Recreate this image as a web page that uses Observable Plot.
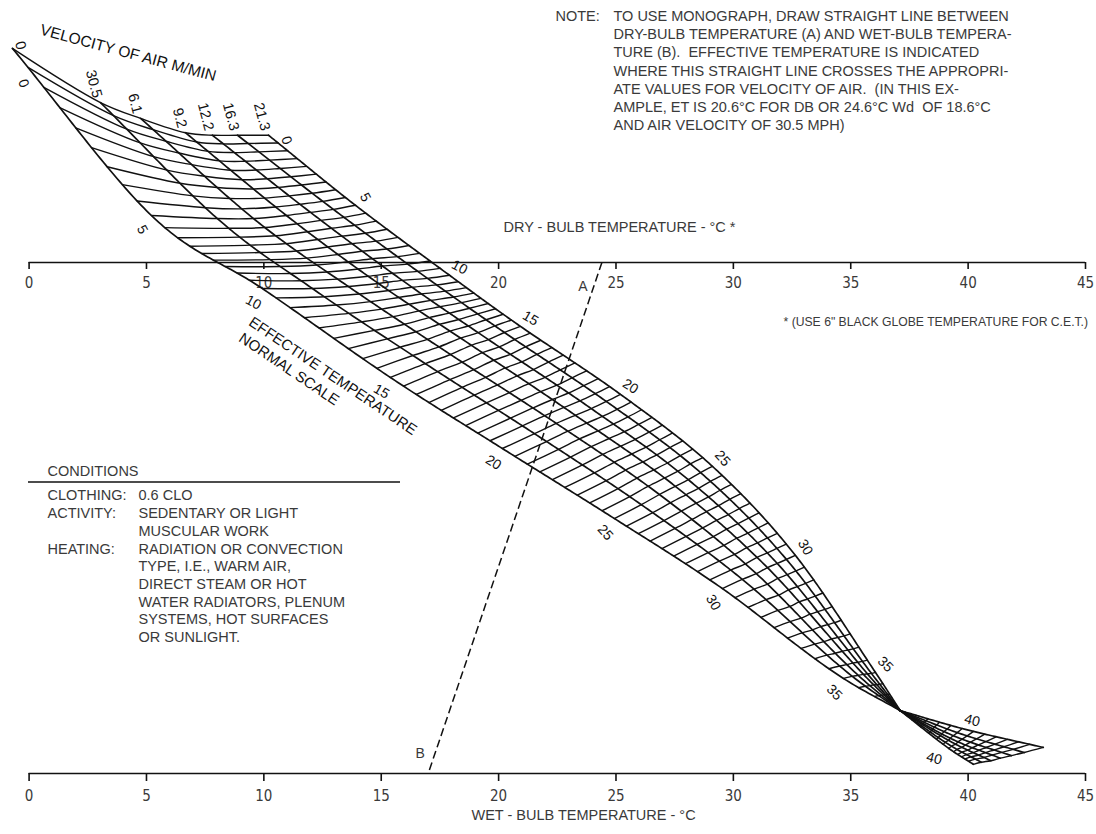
<!DOCTYPE html>
<html>
<head>
<meta charset="utf-8">
<script src="https://cdn.jsdelivr.net/npm/d3@7"></script>
<script src="https://cdn.jsdelivr.net/npm/@observablehq/plot@0.6"></script>
<style>
  html, body { margin: 0; padding: 0; background: #fff; }
  #chart svg { display: block; }
</style>
</head>
<body>
<div id="chart"></div>
<script>
// ---------------- Scales ----------------
const dryBulbTicks = [0, 5, 10, 15, 20, 25, 30, 35, 40, 45];
const wetBulbTicks = [0, 5, 10, 15, 20, 25, 30, 35, 40, 45];

// ---------------- Nomograph mesh ----------------
// Velocity lines, read at effective-temperature nodes (°C).
// T: position on the temperature scales (°C); H: height between wet-bulb scale (0) and dry-bulb scale (1)
const etNodes = [0, 5, 10, 15, 20, 25, 30, 35, 37, 40, 44];
const velocityLabels = ["0", "30.5", "6.1", "9.2", "12.2", "16.3", "21.3"];
const vel0T = [-0.71, 5.21, 9.94, 15.39, 20.16, 24.93, 29.53, 34.69, 37.11, 39.75, 43.20];
const vel0H = [1.419, 1.092, 0.949, 0.775, 0.636, 0.499, 0.362, 0.186, 0.123, 0.088, 0.051];
const vel1T = [3.04, 8.02, 12.07, 16.88, 21.53, 26.08, 30.38, 35.07, 37.11, 39.54, 42.39];
const vel1H = [1.313, 1.086, 0.949, 0.802, 0.665, 0.526, 0.380, 0.190, 0.123, 0.080, 0.041];
const vel2T = [4.75, 9.56, 13.60, 17.95, 22.46, 26.85, 30.98, 35.32, 37.11, 39.37, 41.84];
const vel2H = [1.282, 1.086, 0.953, 0.820, 0.685, 0.546, 0.391, 0.192, 0.123, 0.074, 0.035];
const vel3T = [6.66, 10.96, 14.88, 18.84, 23.27, 27.53, 31.45, 35.54, 37.11, 39.24, 41.37];
const vel3H = [1.254, 1.092, 0.959, 0.838, 0.701, 0.562, 0.403, 0.194, 0.123, 0.069, 0.030];
const vel4T = [7.81, 11.99, 15.90, 19.57, 23.95, 28.08, 31.87, 35.71, 37.11, 39.16, 40.97];
const vel4H = [1.249, 1.098, 0.965, 0.849, 0.714, 0.575, 0.411, 0.195, 0.123, 0.065, 0.025];
const vel5T = [8.88, 12.96, 16.97, 20.25, 24.59, 28.60, 32.26, 35.88, 37.11, 39.03, 40.56];
const vel5H = [1.249, 1.104, 0.969, 0.863, 0.728, 0.589, 0.419, 0.196, 0.123, 0.061, 0.022];
const vel6T = [10.20, 13.90, 17.91, 20.93, 25.19, 29.11, 32.64, 36.05, 37.11, 38.94, 40.22];
const vel6H = [1.249, 1.112, 0.975, 0.875, 0.742, 0.601, 0.427, 0.198, 0.123, 0.057, 0.018];

// Effective-temperature grid lines every 1 °F (32 °F … 110 °F) plus the closing edge
const etRungsF = d3.range(32, 111);
const etEnd = 44;
const etLabelValues = [0, 5, 10, 15, 20, 25, 30, 35, 40];
const etLabelTilt = {0: 70, 5: 62, 10: 28, 15: 30, 20: 32, 25: 48, 30: 60, 35: 45, 40: 15};

// Worked example (dashed line A–B)
const exampleDryBulb = 24.4;
const exampleWetBulb = 17.0;

// ---------------- Geometry helpers ----------------
const lines = [
  {label: velocityLabels[0], T: vel0T, H: vel0H},
  {label: velocityLabels[1], T: vel1T, H: vel1H},
  {label: velocityLabels[2], T: vel2T, H: vel2H},
  {label: velocityLabels[3], T: vel3T, H: vel3H},
  {label: velocityLabels[4], T: vel4T, H: vel4H},
  {label: velocityLabels[5], T: vel5T, H: vel5H},
  {label: velocityLabels[6], T: vel6T, H: vel6H}
];
const CONV = 8; // node where all velocity lines cross

function hermite(E, P, e) {
  const n = E.length;
  let i = 0;
  while (i < n - 2 && e > E[i + 1]) i++;
  const slope = j => j === 0 ? (P[1] - P[0]) / (E[1] - E[0])
    : j === n - 1 ? (P[j] - P[j - 1]) / (E[j] - E[j - 1])
    : ((P[j + 1] - P[j]) / (E[j + 1] - E[j]) + (P[j] - P[j - 1]) / (E[j] - E[j - 1])) / 2;
  const h = E[i + 1] - E[i], t = (e - E[i]) / h, t2 = t * t, t3 = t2 * t;
  return (2 * t3 - 3 * t2 + 1) * P[i] + (t3 - 2 * t2 + t) * h * slope(i)
       + (-2 * t3 + 3 * t2) * P[i + 1] + (t3 - t2) * h * slope(i + 1);
}
function pos(k, e) {
  const L = lines[k];
  const [a, b] = e <= etNodes[CONV] ? [0, CONV + 1] : [CONV, etNodes.length];
  const E = etNodes.slice(a, b);
  return {x: hermite(E, L.T.slice(a, b), e), y: hermite(E, L.H.slice(a, b), e)};
}

const velPts = [];
lines.forEach((L, k) => {
  for (let e = 0; e <= etNodes[CONV] + 1e-9; e += 0.1) velPts.push({z: k + "a", ...pos(k, Math.min(e, etNodes[CONV]))});
  for (let e = etNodes[CONV]; e <= etEnd + 1e-9; e += 0.1) velPts.push({z: k + "b", ...pos(k, Math.min(e, etEnd))});
});
const rungET = etRungsF.map(f => (f - 32) * 5 / 9).concat([etEnd]);
const rungPts = rungET.flatMap((e, r) => lines.map((L, k) => ({r, ...pos(k, e)})));

const lowerLabels = etLabelValues.map(e => ({e, ...pos(e < etNodes[CONV] ? 0 : 6, e)}));
const upperLabels = etLabelValues.map(e => ({e, ...pos(e < etNodes[CONV] ? 6 : 0, e)}));
const velLabelPts = lines.map((L, k) => ({label: L.label, k, ...pos(k, 0)}));

// ---------------- Drawing ----------------
const ink = "#111";
const textInk = "#3a3a3a";
const sans = "Liberation Sans, Arial, Helvetica, sans-serif";
const narrow = "Liberation Sans Narrow, Arial Narrow, DejaVu Sans Condensed, sans-serif";

const noteText = [
  "TO USE MONOGRAPH, DRAW STRAIGHT LINE BETWEEN",
  "DRY-BULB TEMPERATURE (A) AND WET-BULB TEMPERA-",
  "TURE (B).  EFFECTIVE TEMPERATURE IS INDICATED",
  "WHERE THIS STRAIGHT LINE CROSSES THE APPROPRI-",
  "ATE VALUES FOR VELOCITY OF AIR.  (IN THIS EX-",
  "AMPLE, ET IS 20.6°C FOR DB OR 24.6°C Wd  OF 18.6°C",
  "AND AIR VELOCITY OF 30.5 MPH)"
].join("\n");
const condLabels = "CLOTHING:\nACTIVITY:\n\nHEATING:";
const condValues = [
  "0.6 CLO", "SEDENTARY OR LIGHT", "MUSCULAR WORK", "RADIATION OR CONVECTION",
  "TYPE, I.E., WARM AIR,", "DIRECT STEAM OR HOT", "WATER RADIATORS, PLENUM",
  "SYSTEMS, HOT SURFACES", "OR SUNLIGHT."
].join("\n");

const note = (txt, o) => Plot.text([txt], {text: d => d, frameAnchor: "top-left", textAnchor: "start",
  fill: textInk, fontFamily: sans, fontSize: 14.5, ...o});

const conditionsRule = () => {
  const l = document.createElementNS("http://www.w3.org/2000/svg", "line");
  l.setAttribute("x1", 28); l.setAttribute("x2", 400);
  l.setAttribute("y1", 482); l.setAttribute("y2", 482);
  l.setAttribute("stroke", ink); l.setAttribute("stroke-width", 1.6);
  return l;
};

const chart = Plot.plot({
  width: 1096,
  height: 834,
  margin: 0,
  style: {background: "#fff", fontFamily: sans},
  x: {axis: null, domain: [0, 45], range: [28.6, 1085]},
  y: {axis: null, domain: [0, 1], range: [773, 262]},
  marks: [
    // dry-bulb scale
    Plot.ruleY([1], {y: d => d, x1: () => d3.min(dryBulbTicks), x2: () => d3.max(dryBulbTicks), stroke: ink, strokeWidth: 1.7}),
    Plot.ruleX(dryBulbTicks, {x: d => d, y1: () => 1, y2: () => 1, insetBottom: -7, stroke: ink, strokeWidth: 1.6}),
    Plot.text(dryBulbTicks, {x: d => d, y: () => 1, text: d => String(d), dy: 21, fontFamily: narrow, fontSize: 15, fill: textInk}),
    // wet-bulb scale
    Plot.ruleY([0], {y: d => d, x1: () => d3.min(wetBulbTicks), x2: () => d3.max(wetBulbTicks), stroke: ink, strokeWidth: 1.7}),
    Plot.ruleX(wetBulbTicks, {x: d => d, y1: () => 0, y2: () => 0, insetBottom: -8, stroke: ink, strokeWidth: 1.6}),
    Plot.text(wetBulbTicks, {x: d => d, y: () => 0, text: d => String(d), dy: 23, fontFamily: narrow, fontSize: 15, fill: textInk}),

    // mesh
    Plot.line(velPts, {x: "x", y: "y", z: "z", stroke: ink, strokeWidth: 1.7}),
    Plot.line(rungPts, {x: "x", y: "y", z: "r", curve: "catmull-rom", stroke: ink, strokeWidth: 1.4}),

    // ET labels along both edges
    Plot.text(lowerLabels.filter(d => d.e > 0), {x: "x", y: "y", text: d => String(d.e), rotate: d => etLabelTilt[d.e], dx: -9, dy: 14, fontSize: 14, fill: ink}),
    Plot.text(upperLabels.filter(d => d.e > 0), {x: "x", y: "y", text: d => String(d.e), rotate: d => etLabelTilt[d.e], dx: 10, dy: -8, fontSize: 14, fill: ink}),
    Plot.text(lowerLabels.filter(d => d.e === 0), {x: "x", y: "y", text: d => String(d.e), rotate: 70, dx: 11, dy: 35, fontSize: 14, fill: ink}),
    Plot.text(upperLabels.filter(d => d.e === 0), {x: "x", y: "y", text: d => String(d.e), rotate: 70, dx: 18, dy: 5, fontSize: 14, fill: ink}),

    // velocity labels
    Plot.text(velLabelPts.filter(d => d.k > 0), {x: "x", y: "y", text: "label", rotate: 75, textAnchor: "end", dx: -3, dy: -5, fontSize: 14.5, fill: ink}),
    Plot.text(velLabelPts.filter(d => d.k === 0), {x: "x", y: "y", text: "label", rotate: 75, dx: 8, dy: -3, fontSize: 14.5, fill: ink}),

    // worked example
    Plot.link([{db: exampleDryBulb, wb: exampleWetBulb}], {x1: "db", y1: () => 1, x2: "wb", y2: () => 0, stroke: ink, strokeWidth: 1.5, strokeDasharray: "8,4"}),
    Plot.text([exampleDryBulb], {x: d => d, y: () => 1, text: () => "A", dx: -19, dy: 24, fontSize: 14, fill: textInk}),
    Plot.text([exampleWetBulb], {x: d => d, y: () => 0, text: () => "B", dx: -8, dy: -20, fontSize: 14, fill: textInk}),

    // scale titles and notes
    note("DRY - BULB TEMPERATURE - °C *", {dx: 503, dy: 227, lineAnchor: "middle"}),
    note("WET - BULB TEMPERATURE - °C", {dx: 471, dy: 815, lineAnchor: "middle"}),
    note("VELOCITY OF AIR M/MIN", {dx: 40, dy: 29, lineAnchor: "middle", rotate: 15, fontSize: 15.5, letterSpacing: 0.8, fill: ink}),
    note("EFFECTIVE TEMPERATURE", {dx: 250, dy: 320, lineAnchor: "middle", rotate: 34, fontSize: 15, fill: ink}),
    note("NORMAL SCALE", {dx: 240, dy: 336, lineAnchor: "middle", rotate: 34, fontSize: 15, fill: ink}),
    note("NOTE:", {dx: 555, dy: 7.6, lineAnchor: "top", lineHeight: 1.255}),
    note(noteText, {dx: 613, dy: 7.6, lineAnchor: "top", lineHeight: 1.255}),
    note("* (USE 6\" BLACK GLOBE TEMPERATURE FOR C.E.T.)", {dx: 783, dy: 322, lineAnchor: "middle", fontSize: 12.2}),
    note("CONDITIONS", {dx: 47, dy: 471, lineAnchor: "middle"}),
    conditionsRule,
    note(condLabels, {dx: 47, dy: 487.4, lineAnchor: "top", lineHeight: 1.22}),
    note(condValues, {dx: 138, dy: 487.4, lineAnchor: "top", lineHeight: 1.22})
  ]
});
document.getElementById("chart").appendChild(chart);
</script>
</body>
</html>
